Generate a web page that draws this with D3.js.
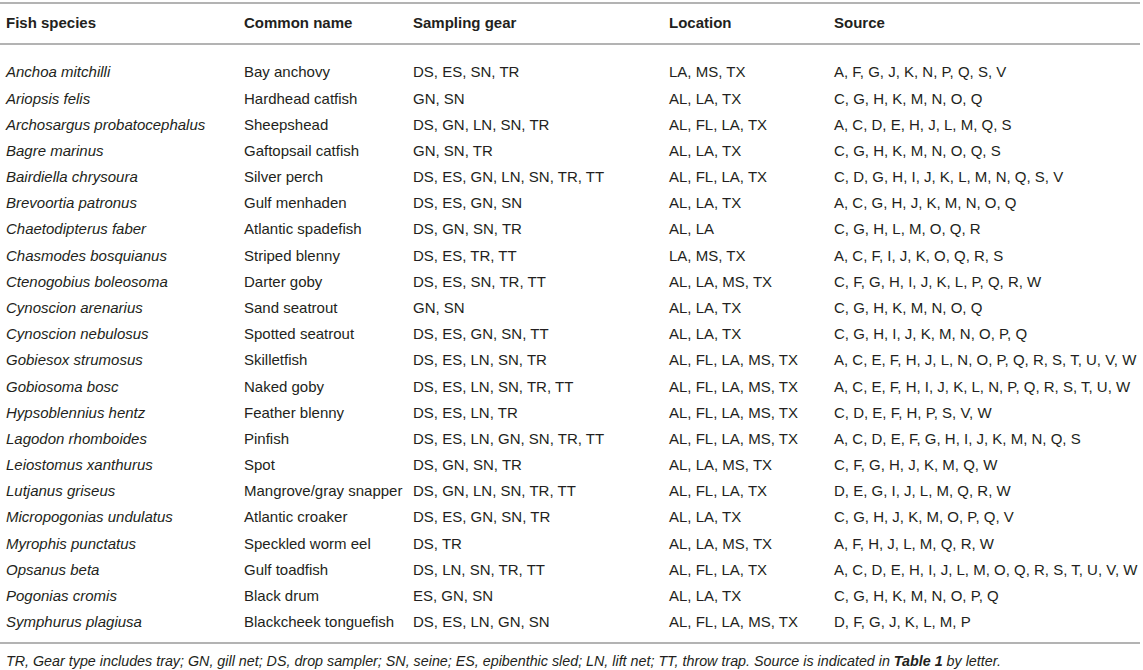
<!DOCTYPE html>
<html>
<head>
<meta charset="utf-8">
<script src="https://cdn.jsdelivr.net/npm/d3@7"></script>
<style>
  body { margin: 0; background: #fff; }
  svg text { font-family: "Liberation Sans", Arial, Helvetica, sans-serif; fill: #231f20; }
</style>
</head>
<body>
<svg id="table" width="1143" height="670"></svg>
<script>
const headers = ["Fish species", "Common name", "Sampling gear", "Location", "Source"];

const species = ["Anchoa mitchilli", "Ariopsis felis", "Archosargus probatocephalus", "Bagre marinus",
  "Bairdiella chrysoura", "Brevoortia patronus", "Chaetodipterus faber", "Chasmodes bosquianus",
  "Ctenogobius boleosoma", "Cynoscion arenarius", "Cynoscion nebulosus", "Gobiesox strumosus",
  "Gobiosoma bosc", "Hypsoblennius hentz", "Lagodon rhomboides", "Leiostomus xanthurus",
  "Lutjanus griseus", "Micropogonias undulatus", "Myrophis punctatus", "Opsanus beta",
  "Pogonias cromis", "Symphurus plagiusa"];

const commonNames = ["Bay anchovy", "Hardhead catfish", "Sheepshead", "Gaftopsail catfish",
  "Silver perch", "Gulf menhaden", "Atlantic spadefish", "Striped blenny", "Darter goby",
  "Sand seatrout", "Spotted seatrout", "Skilletfish", "Naked goby", "Feather blenny", "Pinfish",
  "Spot", "Mangrove/gray snapper", "Atlantic croaker", "Speckled worm eel", "Gulf toadfish",
  "Black drum", "Blackcheek tonguefish"];

const gear = ["DS, ES, SN, TR", "GN, SN", "DS, GN, LN, SN, TR", "GN, SN, TR",
  "DS, ES, GN, LN, SN, TR, TT", "DS, ES, GN, SN", "DS, GN, SN, TR", "DS, ES, TR, TT",
  "DS, ES, SN, TR, TT", "GN, SN", "DS, ES, GN, SN, TT", "DS, ES, LN, SN, TR",
  "DS, ES, LN, SN, TR, TT", "DS, ES, LN, TR", "DS, ES, LN, GN, SN, TR, TT", "DS, GN, SN, TR",
  "DS, GN, LN, SN, TR, TT", "DS, ES, GN, SN, TR", "DS, TR", "DS, LN, SN, TR, TT",
  "ES, GN, SN", "DS, ES, LN, GN, SN"];

const locations = ["LA, MS, TX", "AL, LA, TX", "AL, FL, LA, TX", "AL, LA, TX", "AL, FL, LA, TX",
  "AL, LA, TX", "AL, LA", "LA, MS, TX", "AL, LA, MS, TX", "AL, LA, TX", "AL, LA, TX",
  "AL, FL, LA, MS, TX", "AL, FL, LA, MS, TX", "AL, FL, LA, MS, TX", "AL, FL, LA, MS, TX",
  "AL, LA, MS, TX", "AL, FL, LA, TX", "AL, LA, TX", "AL, LA, MS, TX", "AL, FL, LA, TX",
  "AL, LA, TX", "AL, FL, LA, MS, TX"];

const sources = ["A, F, G, J, K, N, P, Q, S, V", "C, G, H, K, M, N, O, Q",
  "A, C, D, E, H, J, L, M, Q, S", "C, G, H, K, M, N, O, Q, S",
  "C, D, G, H, I, J, K, L, M, N, Q, S, V", "A, C, G, H, J, K, M, N, O, Q",
  "C, G, H, L, M, O, Q, R", "A, C, F, I, J, K, O, Q, R, S",
  "C, F, G, H, I, J, K, L, P, Q, R, W", "C, G, H, K, M, N, O, Q",
  "C, G, H, I, J, K, M, N, O, P, Q", "A, C, E, F, H, J, L, N, O, P, Q, R, S, T, U, V, W",
  "A, C, E, F, H, I, J, K, L, N, P, Q, R, S, T, U, W", "C, D, E, F, H, P, S, V, W",
  "A, C, D, E, F, G, H, I, J, K, M, N, Q, S", "C, F, G, H, J, K, M, Q, W",
  "D, E, G, I, J, L, M, Q, R, W", "C, G, H, J, K, M, O, P, Q, V",
  "A, F, H, J, L, M, Q, R, W", "A, C, D, E, H, I, J, L, M, O, Q, R, S, T, U, V, W",
  "C, G, H, K, M, N, O, P, Q", "D, F, G, J, K, L, M, P"];

const footnote = [
  { t: "TR, Gear type includes tray; GN, gill net; DS, drop sampler; SN, seine; ES, epibenthic sled; LN, lift net; TT, throw trap. Source is indicated in ", b: false },
  { t: "Table 1", b: true },
  { t: " by letter.", b: false }
];

const rows = species.map((s, i) => [s, commonNames[i], gear[i], locations[i], sources[i]]);

const svg = d3.select("#table");
const W = +svg.attr("width");

const colX = d3.scaleOrdinal().domain(headers).range([6, 244, 413, 669, 834]);
const rowY = d3.scaleBand().domain(d3.range(rows.length)).range([59, 635]);

const fontSize = 15;
const ruleColor = "#b3b3b3";

// rules
svg.selectAll("line.rule")
  .data([3, 44, 643])
  .join("line")
    .attr("class", "rule")
    .attr("x1", 0).attr("x2", W - 3)
    .attr("y1", d => d).attr("y2", d => d)
    .attr("stroke", ruleColor)
    .attr("stroke-width", 2);

// header
svg.selectAll("text.head")
  .data(headers)
  .join("text")
    .attr("class", "head")
    .attr("x", d => colX(d))
    .attr("y", 28)
    .attr("font-size", fontSize)
    .attr("font-weight", "bold")
    .text(d => d);

// body rows
const rowG = svg.selectAll("g.row")
  .data(rows)
  .join("g")
    .attr("class", "row")
    .attr("transform", (d, i) => `translate(0,${rowY(i) + rowY.bandwidth() / 2})`);

rowG.selectAll("text")
  .data(d => d)
  .join("text")
    .attr("x", (d, j) => colX(headers[j]))
    .attr("dy", "0.35em")
    .attr("font-size", fontSize)
    .attr("font-style", (d, j) => j === 0 ? "italic" : null)
    .text(d => d);

// footnote
svg.append("text")
    .attr("x", 6)
    .attr("y", 666)
    .attr("font-size", 14.3)
    .attr("font-style", "italic")
  .selectAll("tspan")
  .data(footnote)
  .join("tspan")
    .attr("font-weight", d => d.b ? "bold" : null)
    .text(d => d.t);
</script>
</body>
</html>
